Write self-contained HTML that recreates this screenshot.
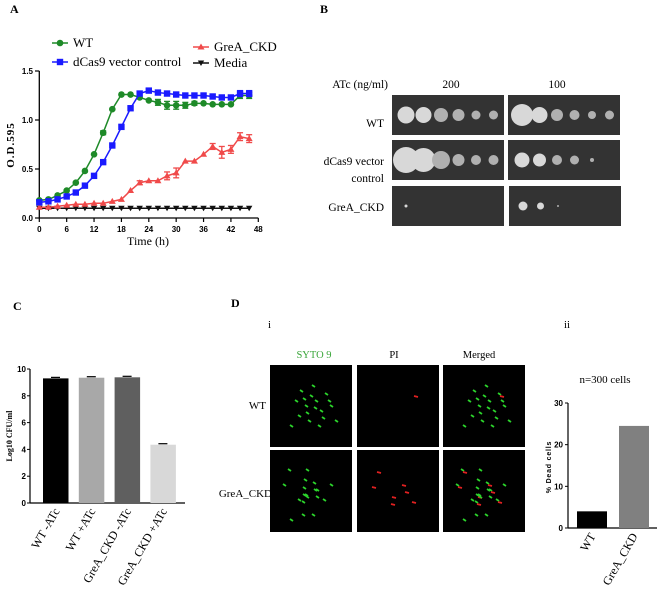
<!DOCTYPE html>
<html><head><meta charset="utf-8"><style>
body{margin:0;background:#fff;}
svg{display:block;font-family:"Liberation Serif",serif;}
.tk{font-family:"Liberation Sans",sans-serif;font-weight:bold;font-size:8px;}
</style></head><body>
<svg id="fig" width="657" height="605" viewBox="0 0 657 605">
<g id="pa"></g>
<g id="pb"></g>
<g id="pc"></g>
<g id="pd"></g>
</svg>
<script>
// ---------- data: panel A ----------
const times=[0,2,4,6,8,10,12,14,16,18,20,22,24,26,28,30,32,34,36,38,40,42,44,46];
const wtOD=[.18,.19,.23,.28,.36,.48,.65,.87,1.11,1.26,1.26,1.23,1.20,1.18,1.15,1.15,1.15,1.17,1.17,1.16,1.16,1.16,1.25,1.25];
const wtErr=[0,0,0,0,0,0,0,.02,0,0,0,0,0,.03,.04,.04,.03,.02,0,0,0,0,.03,.03];
const dcasOD=[.16,.17,.19,.22,.26,.33,.43,.57,.74,.93,1.12,1.27,1.30,1.28,1.27,1.26,1.25,1.25,1.25,1.24,1.23,1.23,1.27,1.27];
const dcasErr=[0,0,0,0,0,0,0,0,0,0,.02,0,.02,0,0,0,0,0,.02,0,.02,.02,.03,.03];
const greaOD=[.11,.11,.12,.13,.14,.14,.15,.15,.17,.19,.28,.36,.38,.38,.43,.46,.58,.58,.65,.73,.67,.70,.83,.81];
const greaErr=[0,0,0,0,0,0,0,0,0,0,0,.02,0,0,.04,.05,0,0,0,.03,.06,.04,.04,.04];
const mediaOD=[.1,.1,.1,.1,.1,.1,.1,.1,.1,.1,.1,.1,.1,.1,.1,.1,.1,.1,.1,.1,.1,.1,.1,.1];
const aXTicks=[0,6,12,18,24,30,36,42,48];
const aYTicks=[0,0.5,1.0,1.5];
// ---------- data: panel C ----------
const cCats=["WT -ATc","WT +ATc","GreA_CKD  -ATc","GreA_CKD  +ATc"];
const cVals=[9.3,9.35,9.38,4.35];
const cYTicks=[0,2,4,6,8,10];
// ---------- data: panel D ii ----------
const dCats=["WT","GreA_CKD"];
const dVals=[4,24.5];
const dYTicks=[0,10,20,30];

const NS="http://www.w3.org/2000/svg";
function mk(parent,tag,attrs,text){const e=document.createElementNS(NS,tag);for(const k in attrs)e.setAttribute(k,attrs[k]);if(text!==undefined)e.textContent=text;parent.appendChild(e);return e;}

// ===== Panel A =====
const pa=document.getElementById('pa');
const ax=t=>39.3+t*(258.3-39.3)/48;
const ay=v=>218-v*(218-71)/1.5;
let t;
t=mk(pa,'text',{x:10,y:13,'font-size':12,'font-weight':'bold'},'A');


mk(pa,'line',{x1:39.3,y1:71,x2:39.3,y2:218,stroke:'#000','stroke-width':1.3});
mk(pa,'line',{x1:39.3,y1:218,x2:258.3,y2:218,stroke:'#000','stroke-width':1.3});
aYTicks.forEach(v=>{mk(pa,'line',{x1:35,y1:ay(v),x2:39.3,y2:ay(v),stroke:'#000','stroke-width':1.2});
 const e=mk(pa,'text',{x:33,y:ay(v)+3,'text-anchor':'end',class:'tk'},v.toFixed(1));
 });
aXTicks.forEach(v=>{mk(pa,'line',{x1:ax(v),y1:218,x2:ax(v),y2:222,stroke:'#000','stroke-width':1.2});
 const e=mk(pa,'text',{x:ax(v),y:232,'text-anchor':'middle',class:'tk'},v);
 });
t=mk(pa,'text',{x:148,y:245,'text-anchor':'middle','font-size':12},'Time (h)');

t=mk(pa,'text',{x:0,y:0,'text-anchor':'middle','font-size':11,'font-weight':'bold',transform:'translate(14,145) rotate(-90)','letter-spacing':'1'},'O.D.595');

function marker(g,type,x,y,c){
 if(type==='circle')mk(g,'circle',{cx:x,cy:y,r:3.3,fill:c});
 else if(type==='square')mk(g,'rect',{x:x-3.2,y:y-3.2,width:6.4,height:6.4,fill:c});
 else if(type==='tri')mk(g,'polygon',{points:`${x},${y-3.5} ${x-3.5},${y+2.5} ${x+3.5},${y+2.5}`,fill:c});
 else mk(g,'polygon',{points:`${x},${y+3} ${x-3.2},${y-2.5} ${x+3.2},${y-2.5}`,fill:c});
}
function series(name,vals,errs,color,type){
 const g=mk(pa,'g',{});
 
 
 mk(g,'polyline',{points:vals.map((v,i)=>ax(times[i])+','+ay(v)).join(' '),fill:'none',stroke:color,'stroke-width':1.5});
 vals.forEach((v,i)=>{const e=errs?errs[i]:0;if(e>0){const x=ax(times[i]);
  mk(g,'line',{x1:x,y1:ay(v-e),x2:x,y2:ay(v+e),stroke:color,'stroke-width':1.3});
  mk(g,'line',{x1:x-3,y1:ay(v-e),x2:x+3,y2:ay(v-e),stroke:color,'stroke-width':1.3});
  mk(g,'line',{x1:x-3,y1:ay(v+e),x2:x+3,y2:ay(v+e),stroke:color,'stroke-width':1.3});}
  marker(g,type,ax(times[i]),ay(v),color);});
}
series('series-media',mediaOD,null,'#111','down');
series('series-grea-ckd',greaOD,greaErr,'#f04a4a','tri');
series('series-wt',wtOD,wtErr,'#1e8a28','circle');
series('series-dcas9',dcasOD,dcasErr,'#1a1aff','square');
function leg(name,x,y,color,type,label){const g=mk(pa,'g',{});
 
 mk(g,'line',{x1:x-8,y1:y,x2:x+8,y2:y,stroke:color,'stroke-width':1.5});marker(g,type,x,y,color);
 mk(g,'text',{x:x+13,y:y+4,'font-size':13},label);}
leg('legend-wt',60,43,'#1e8a28','circle','WT');
leg('legend-dcas9',60,62,'#1a1aff','square','dCas9 vector control');
leg('legend-grea-ckd',201,47,'#f04a4a','tri',' GreA_CKD');
leg('legend-media',201,63,'#111','down','Media');

// ===== Panel B =====
const pb=document.getElementById('pb');
t=mk(pb,'text',{x:320,y:13,'font-size':12,'font-weight':'bold'},'B');

[['atc-label',388,88,'ATc (ng/ml)','end'],['conc-200',451,88,'200','middle'],['conc-100',557,88,'100','middle'],
 ['row-wt',384,127,'WT','end'],['row-dcas9-a',384,165,'dCas9 vector','end'],['row-dcas9-b',384,182,'control','end'],['row-grea',384,211,'GreA_CKD','end']].forEach(r=>{
 const e=mk(pb,'text',{x:r[1],y:r[2],'font-size':11.5,'text-anchor':r[4]},r[3]);
 });
const plates=[[392,95,'wt-200',[8.5,8,7,6,4.5,4.5]],[508,95,'wt-100',[11,8,6,5,4,4.5]],
 [392,140,'dcas9-200',[13,12,9,6,5,5]],[508,140,'dcas9-100',[7.5,6.5,5,4.5,2,0]],
 [392,186,'grea-200',[1.5,0,0,0,0,0]],[509,186,'grea-100',[4.5,3.5,1,0,0,0]]];
plates.forEach(p=>{const g=mk(pb,'g',{});
 
 mk(g,'rect',{x:p[0],y:p[1],width:112,height:40,fill:'#333'});
 p[3].forEach((r,i)=>{if(r>0)mk(g,'circle',{cx:p[0]+14+i*17.5,cy:p[1]+20,r:r,fill:i<2?'#d8d8d8':'#b0b0b0'});});});

// ===== Panel C =====
const pc=document.getElementById('pc');
t=mk(pc,'text',{x:13,y:310,'font-size':12,'font-weight':'bold'},'C');

const cy=v=>503-v*(503-369)/10;
const cColors=['#000','#a8a8a8','#5f5f5f','#d8d8d8'];
mk(pc,'line',{x1:30,y1:369,x2:30,y2:503,stroke:'#000','stroke-width':1.2});
mk(pc,'line',{x1:30,y1:503,x2:185,y2:503,stroke:'#000','stroke-width':1.2});
cYTicks.forEach(v=>{mk(pc,'line',{x1:27,y1:cy(v),x2:30,y2:cy(v),stroke:'#000'});
 const e=mk(pc,'text',{x:26,y:cy(v)+3,'text-anchor':'end',class:'tk',"font-size":7},v);
 });
t=mk(pc,'text',{x:0,y:0,'text-anchor':'middle','font-size':8,'font-weight':'bold',transform:'translate(12,436) rotate(-90)'},'Log10 CFU/ml');

cVals.forEach((v,i)=>{const x=43+i*35.8;
 const b=mk(pc,'rect',{x:x,y:cy(v),width:25.5,height:503-cy(v),fill:cColors[i]});
 
 mk(pc,'line',{x1:x+8,y1:cy(v)-1,x2:x+17,y2:cy(v)-1,stroke:'#000','stroke-width':1.2});
 const l=mk(pc,'text',{x:0,y:0,'text-anchor':'end','font-size':12,transform:`translate(${x+17},511) rotate(-60)`},cCats[i]);
 });

// ===== Panel D =====
const pd=document.getElementById('pd');
[['panel-d-label',231,307,'D',12,'bold','#000'],['sub-i',268,328,'i',11,'normal','#000'],['sub-ii',564,328,'ii',11,'normal','#000'],
 ['header-syto9',314,358,'SYTO 9',10.5,'normal','#3aa63a'],['header-pi',394,358,'PI',10.5,'normal','#000'],['header-merged',479,358,'Merged',10.5,'normal','#000']].forEach(r=>{
 const e=mk(pd,'text',{x:r[1],y:r[2],'font-size':r[4],'font-weight':r[5],fill:r[6],'text-anchor':r[0].startsWith('header')?'middle':'start'},r[3]);
 });
[['d-row-wt',266,409,'WT'],['d-row-grea',272,497,'GreA_CKD']].forEach(r=>{
 const e=mk(pd,'text',{x:r[1],y:r[2],'font-size':11,'text-anchor':'end'},r[3]);
 });
const cols=[270,357,443], rows=[365,450];
const speck=[[30,25],[40,30],[35,40],[45,35],[50,45],[28,50],[55,28],[38,55],[60,40],[25,35],[48,60],[20,60],[65,55],[42,20],[33,33],[44,42],[52,52],[36,47],[58,35]];
rows.forEach((ry,ri)=>cols.forEach((cx,ci)=>{const g=mk(pd,'g',{});
 
 mk(g,'rect',{x:cx,y:ry,width:82,height:82,fill:'#000'});
 speck.forEach((s,k)=>{const gx=cx+s[0]+(ri?(k%3)*6-12:0),gy=ry+s[1]+(ri?(k%4)*5-6:0);
  if(ci!==1)mk(g,'line',{x1:gx,y1:gy,x2:gx+3,y2:gy+2,stroke:'#2bd42b','stroke-width':1.8});
  if(ci>0&&(ri===1?k%3===0:k===6))mk(g,'line',{x1:gx+2,y1:gy+3,x2:gx+6,y2:gy+4,stroke:'#e02020','stroke-width':1.8});});}));
const dy=v=>528-v*(528-403)/30;
mk(pd,'line',{x1:568,y1:403,x2:568,y2:528,stroke:'#000','stroke-width':1.2});
mk(pd,'line',{x1:568,y1:528,x2:657,y2:528,stroke:'#000','stroke-width':1.2});
dYTicks.forEach(v=>{mk(pd,'line',{x1:565,y1:dy(v),x2:568,y2:dy(v),stroke:'#000'});
 const e=mk(pd,'text',{x:563,y:dy(v)+3,'text-anchor':'end',class:'tk','font-size':6},v);
 });
t=mk(pd,'text',{x:0,y:0,'text-anchor':'middle','font-size':7,'font-weight':'bold','font-family':'Liberation Sans,sans-serif','letter-spacing':'0.8',transform:'translate(551,467) rotate(-90)'},'% Dead cells');

t=mk(pd,'text',{x:605,y:383,'text-anchor':'middle','font-size':11},'n=300 cells');

const dColors=['#000','#808080'];
dVals.forEach((v,i)=>{const x=577+i*42;
 const b=mk(pd,'rect',{x:x,y:dy(v),width:30,height:528-dy(v),fill:dColors[i]});
 
 const l=mk(pd,'text',{x:0,y:0,'text-anchor':'end','font-size':12,transform:`translate(${x+19},536) rotate(-60)`},dCats[i]);
 });
</script>
</body></html>
